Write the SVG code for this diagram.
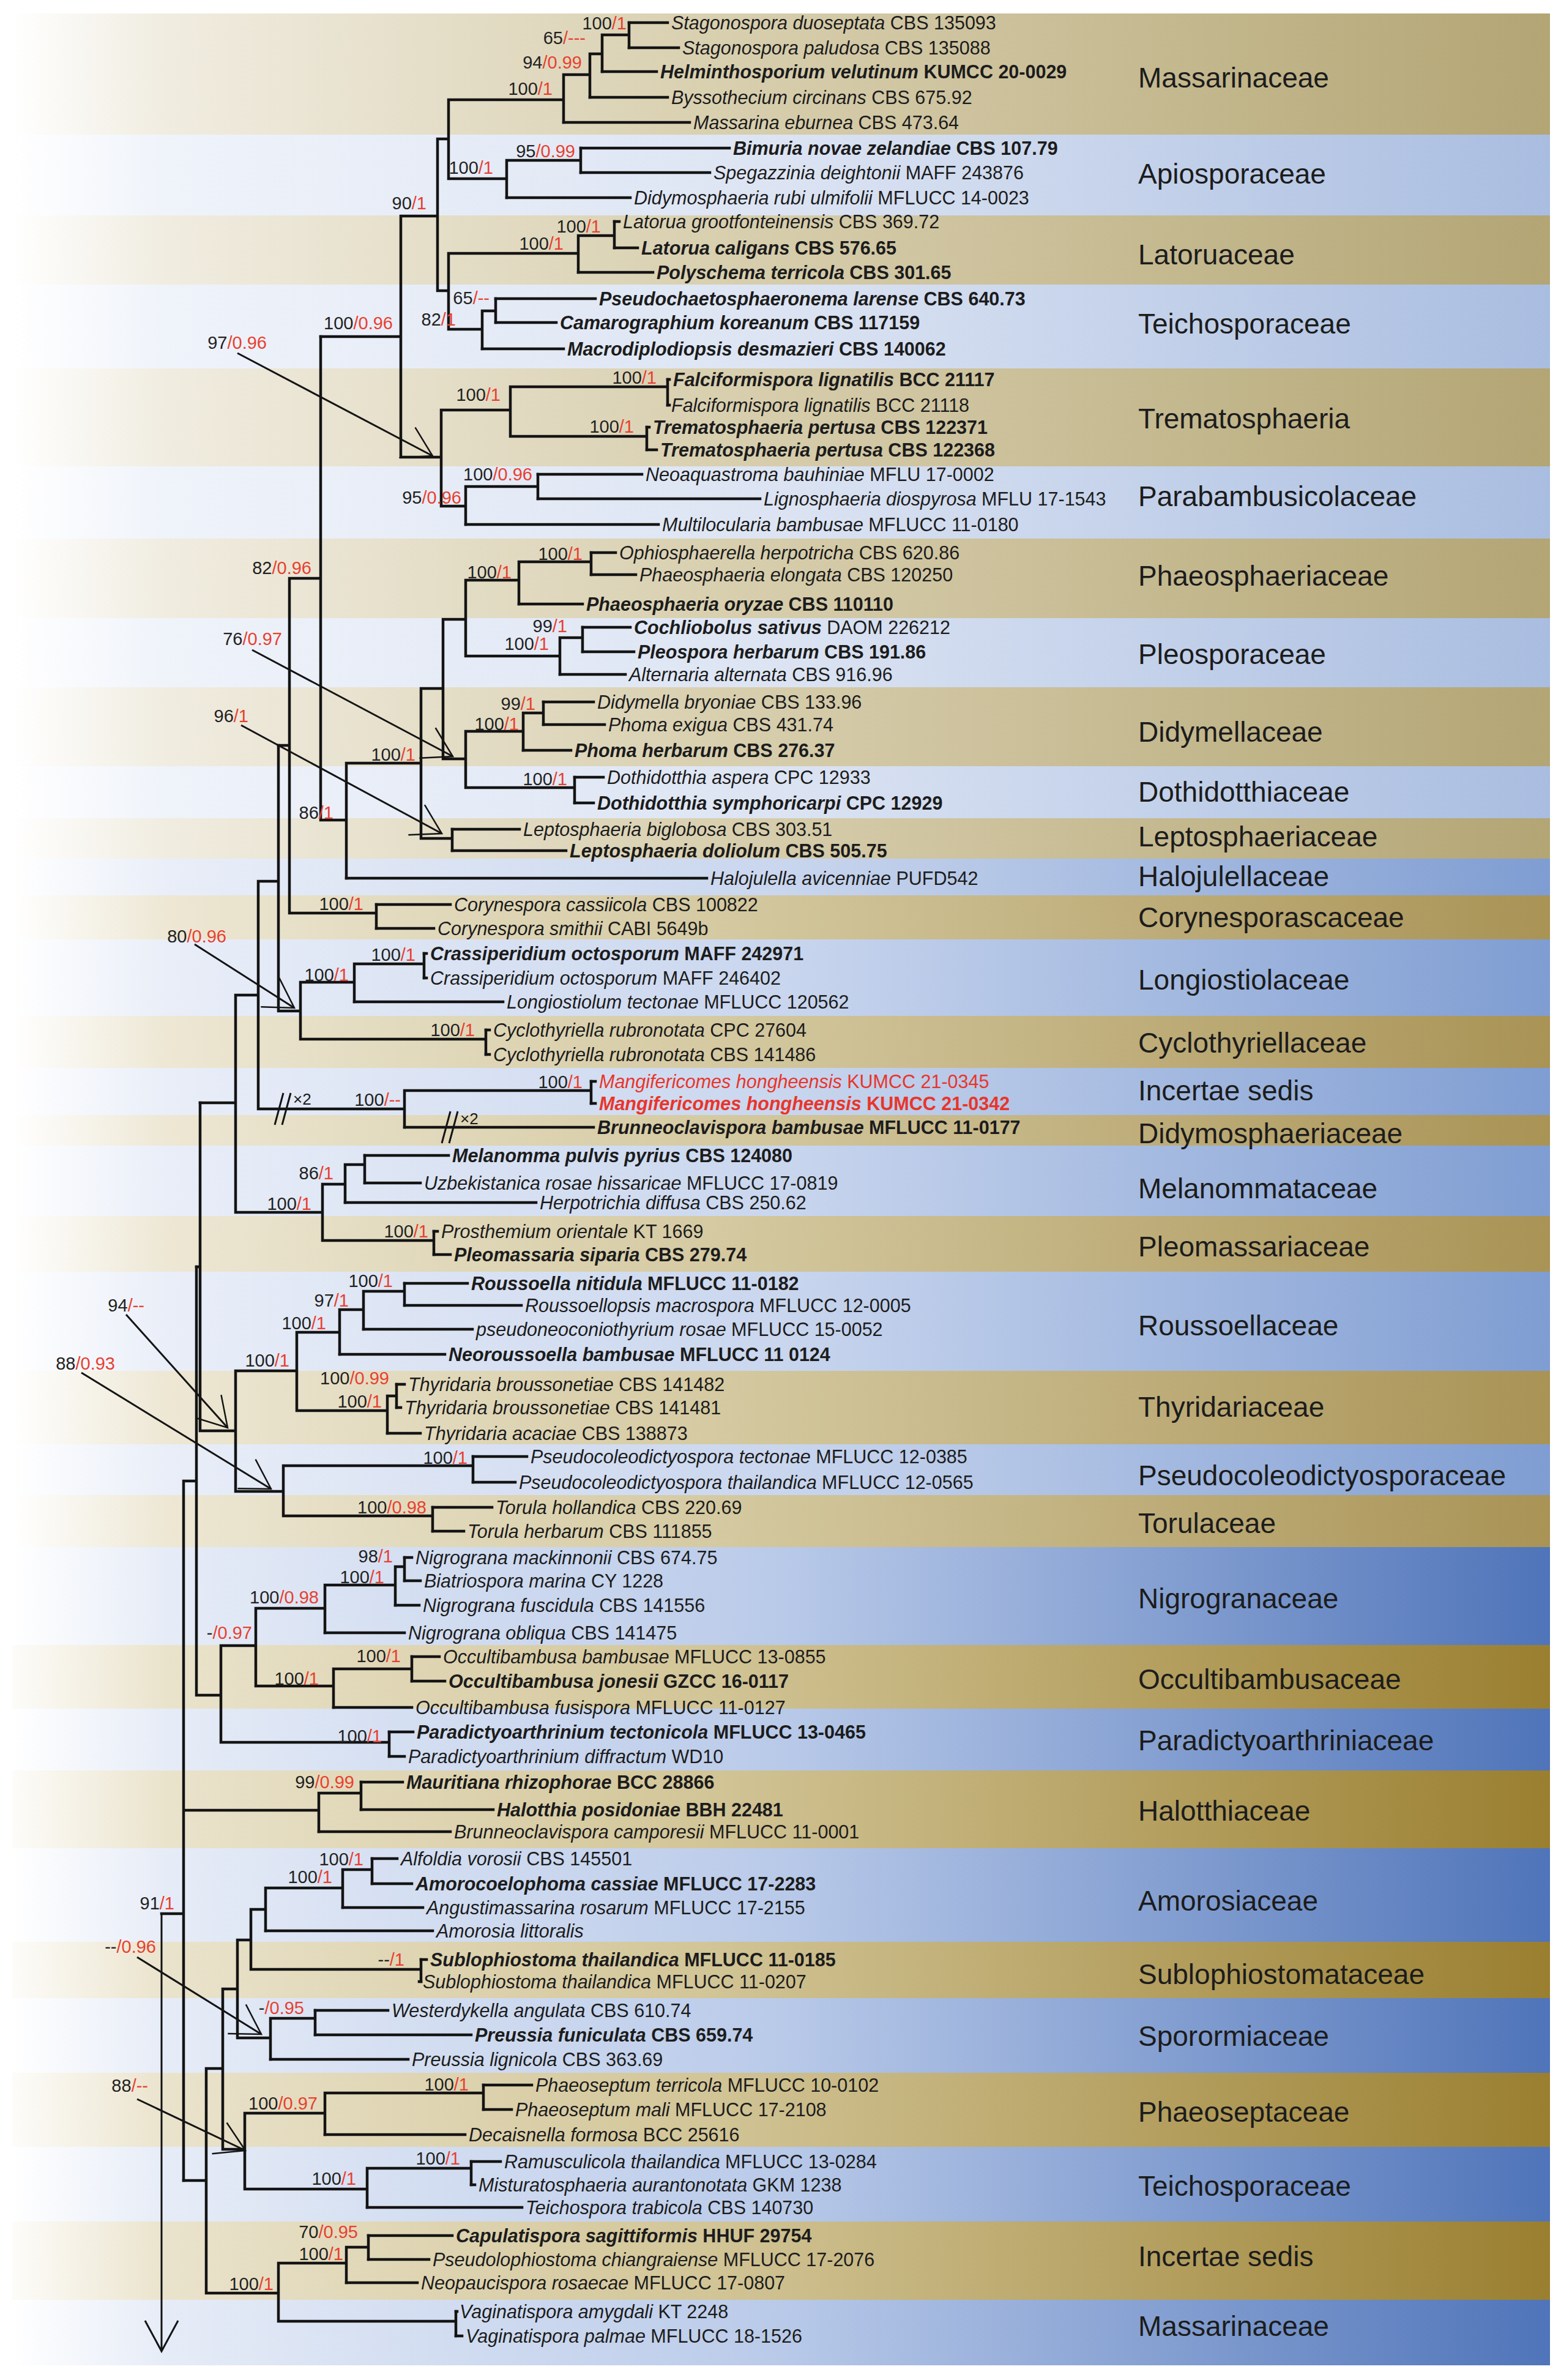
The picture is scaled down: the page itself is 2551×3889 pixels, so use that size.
<svg xmlns="http://www.w3.org/2000/svg" width="2551" height="3889" viewBox="0 0 2551 3889">
<defs>
<style>
.br{stroke:#141414;stroke-width:4.5;fill:none;stroke-linecap:square}
.ar{stroke:#141414;stroke-width:3;fill:none;marker-end:url(#ah)}
.t{font-family:"Liberation Sans",Arial,sans-serif;font-size:30.5px;fill:#1c1c1c}
.i{font-style:italic}
.b{font-weight:bold}
.s{font-family:"Liberation Sans",Arial,sans-serif;font-size:29px;fill:#222;text-anchor:end}
.r{fill:#e8402f}
.f{font-family:"Liberation Sans",Arial,sans-serif;font-size:46px;fill:#1c1c1c}
.red{fill:#e8352b}
</style>
<marker id="ah" markerUnits="userSpaceOnUse" orient="auto" markerWidth="80" markerHeight="80" refX="0" refY="0" viewBox="-60 -40 70 80" overflow="visible">
<path d="M-47,-28 L0,0 L-47,28" fill="none" stroke="#141414" stroke-width="2.5"/>
</marker>
<linearGradient id="tan1" x1="0" y1="0" x2="1" y2="0"><stop offset="0" stop-color="#ffffff"/><stop offset="0.1" stop-color="#f0ece0"/><stop offset="0.45" stop-color="#d9d0b0"/><stop offset="1" stop-color="#b3a574"/></linearGradient>
<linearGradient id="tan2" x1="0" y1="0" x2="1" y2="0"><stop offset="0" stop-color="#ffffff"/><stop offset="0.1" stop-color="#ede7d4"/><stop offset="0.45" stop-color="#d5caa2"/><stop offset="1" stop-color="#a99355"/></linearGradient>
<linearGradient id="tan3" x1="0" y1="0" x2="1" y2="0"><stop offset="0" stop-color="#fdfcf9"/><stop offset="0.1" stop-color="#eae3cc"/><stop offset="0.45" stop-color="#d2c597"/><stop offset="1" stop-color="#9a7f30"/></linearGradient>
<linearGradient id="blu1" x1="0" y1="0" x2="1" y2="0"><stop offset="0" stop-color="#ffffff"/><stop offset="0.1" stop-color="#eff3fa"/><stop offset="0.5" stop-color="#dce4f3"/><stop offset="1" stop-color="#a9bde0"/></linearGradient>
<linearGradient id="blu2" x1="0" y1="0" x2="1" y2="0"><stop offset="0" stop-color="#ffffff"/><stop offset="0.1" stop-color="#e9eef8"/><stop offset="0.5" stop-color="#c9d6ee"/><stop offset="1" stop-color="#7f9dd2"/></linearGradient>
<linearGradient id="blu3" x1="0" y1="0" x2="1" y2="0"><stop offset="0" stop-color="#ffffff"/><stop offset="0.1" stop-color="#e6ecf7"/><stop offset="0.5" stop-color="#b9cae9"/><stop offset="1" stop-color="#4f74b9"/></linearGradient>
</defs>
<rect width="2551" height="3889" fill="#ffffff"/>
<g id="bands">
<rect x="20" y="22" width="2513" height="198" fill="url(#tan1)"/>
<rect x="20" y="220" width="2513" height="132" fill="url(#blu1)"/>
<rect x="20" y="352" width="2513" height="113" fill="url(#tan1)"/>
<rect x="20" y="465" width="2513" height="137" fill="url(#blu1)"/>
<rect x="20" y="602" width="2513" height="160" fill="url(#tan1)"/>
<rect x="20" y="762" width="2513" height="118" fill="url(#blu1)"/>
<rect x="20" y="880" width="2513" height="130" fill="url(#tan1)"/>
<rect x="20" y="1010" width="2513" height="113" fill="url(#blu1)"/>
<rect x="20" y="1123" width="2513" height="129" fill="url(#tan1)"/>
<rect x="20" y="1252" width="2513" height="85" fill="url(#blu1)"/>
<rect x="20" y="1337" width="2513" height="66" fill="url(#tan1)"/>
<rect x="20" y="1403" width="2513" height="60" fill="url(#blu2)"/>
<rect x="20" y="1463" width="2513" height="72" fill="url(#tan2)"/>
<rect x="20" y="1535" width="2513" height="125" fill="url(#blu2)"/>
<rect x="20" y="1660" width="2513" height="85" fill="url(#tan2)"/>
<rect x="20" y="1745" width="2513" height="77" fill="url(#blu2)"/>
<rect x="20" y="1822" width="2513" height="50" fill="url(#tan2)"/>
<rect x="20" y="1872" width="2513" height="115" fill="url(#blu2)"/>
<rect x="20" y="1987" width="2513" height="91" fill="url(#tan2)"/>
<rect x="20" y="2078" width="2513" height="162" fill="url(#blu2)"/>
<rect x="20" y="2240" width="2513" height="120" fill="url(#tan2)"/>
<rect x="20" y="2360" width="2513" height="83" fill="url(#blu2)"/>
<rect x="20" y="2443" width="2513" height="85" fill="url(#tan2)"/>
<rect x="20" y="2528" width="2513" height="160" fill="url(#blu3)"/>
<rect x="20" y="2688" width="2513" height="104" fill="url(#tan3)"/>
<rect x="20" y="2792" width="2513" height="101" fill="url(#blu3)"/>
<rect x="20" y="2893" width="2513" height="127" fill="url(#tan3)"/>
<rect x="20" y="3020" width="2513" height="153" fill="url(#blu3)"/>
<rect x="20" y="3173" width="2513" height="92" fill="url(#tan3)"/>
<rect x="20" y="3265" width="2513" height="122" fill="url(#blu3)"/>
<rect x="20" y="3387" width="2513" height="121" fill="url(#tan3)"/>
<rect x="20" y="3508" width="2513" height="122" fill="url(#blu3)"/>
<rect x="20" y="3630" width="2513" height="128" fill="url(#tan3)"/>
<rect x="20" y="3758" width="2513" height="107" fill="url(#blu3)"/>
</g>
<g id="families">
<text class="f" x="1860" y="143">Massarinaceae</text>
<text class="f" x="1860" y="300">Apiosporaceae</text>
<text class="f" x="1860" y="432">Latoruaceae</text>
<text class="f" x="1860" y="545">Teichosporaceae</text>
<text class="f" x="1860" y="700">Trematosphaeria</text>
<text class="f" x="1860" y="827">Parabambusicolaceae</text>
<text class="f" x="1860" y="957">Phaeosphaeriaceae</text>
<text class="f" x="1860" y="1085">Pleosporaceae</text>
<text class="f" x="1860" y="1212">Didymellaceae</text>
<text class="f" x="1860" y="1310">Dothidotthiaceae</text>
<text class="f" x="1860" y="1383">Leptosphaeriaceae</text>
<text class="f" x="1860" y="1448">Halojulellaceae</text>
<text class="f" x="1860" y="1515">Corynesporascaceae</text>
<text class="f" x="1860" y="1617">Longiostiolaceae</text>
<text class="f" x="1860" y="1720">Cyclothyriellaceae</text>
<text class="f" x="1860" y="1798">Incertae sedis</text>
<text class="f" x="1860" y="1868">Didymosphaeriaceae</text>
<text class="f" x="1860" y="1958">Melanommataceae</text>
<text class="f" x="1860" y="2053">Pleomassariaceae</text>
<text class="f" x="1860" y="2182">Roussoellaceae</text>
<text class="f" x="1860" y="2315">Thyridariaceae</text>
<text class="f" x="1860" y="2427">Pseudocoleodictyosporaceae</text>
<text class="f" x="1860" y="2505">Torulaceae</text>
<text class="f" x="1860" y="2628">Nigrogranaceae</text>
<text class="f" x="1860" y="2760">Occultibambusaceae</text>
<text class="f" x="1860" y="2860">Paradictyoarthriniaceae</text>
<text class="f" x="1860" y="2975">Halotthiaceae</text>
<text class="f" x="1860" y="3122">Amorosiaceae</text>
<text class="f" x="1860" y="3242">Sublophiostomataceae</text>
<text class="f" x="1860" y="3343">Sporormiaceae</text>
<text class="f" x="1860" y="3467">Phaeoseptaceae</text>
<text class="f" x="1860" y="3588">Teichosporaceae</text>
<text class="f" x="1860" y="3703">Incertae sedis</text>
<text class="f" x="1860" y="3817">Massarinaceae</text>
</g>
<g id="connectors">
<path class="br" d="M1028,37H1091M1028,78H1109M984,117H1073M964,159H1091M921,200H1127M949,242H1192M949,282H1160M828,323H1030M1004,362H1012M1004,405H1042M945,445H1067M810,488H973M810,527H909M788,570H921M1091,620H1094M1091,662H1094M1057,698H1061M1057,735H1073M879,775H1049M879,815H1242M761,857H1076M966,903H1006M966,939H1039M848,987H952M952,1025H1030M952,1065H1036M915,1102H1022M888,1147H970M888,1184H988M855,1226H933M939,1270H986M939,1312H970M739,1355H849M739,1390H925M566,1435H1155M615,1478H736M615,1517H709M693,1558H697M693,1598H697M579,1637H822M794,1683H800M794,1723H800M966,1767H973M966,1803H973M661,1842H970M596,1888H733M596,1933H687M564,1965H876M709,2012H715M709,2050H736M661,2097H764M661,2133H852M594,2172H772M555,2213H727M648,2262H661M648,2300H655M633,2342H687M773,2380H861M773,2422H842M707,2463H804M707,2502H758M661,2545H673M661,2583H687M646,2623H685M531,2668H661M673,2707H718M673,2747H727M545,2790H673M636,2830H675M636,2870H661M590,2912H658M590,2957H806M521,2993H736M608,3037H649M608,3078H673M560,3117H691M434,3155H707M688,3202H697M688,3238H685M515,3285H634M515,3325H770M442,3365H667M790,3407H869M790,3447H836M531,3488H760M770,3532H818M770,3570H776M600,3607H853M602,3653H739M602,3692H701M566,3730H682M745,3777H747M745,3817H755"/>
<path class="br" d="M984,57H1028M1028,37V78M964,88H984M984,57V117M921,122H964M964,88V159M733,163H921M921,122V200M828,262H949M949,242V282M733,292H828M828,262V323M715,227H733M733,163V292M945,385H1004M1004,362V405M733,414H945M945,385V445M788,508H810M810,488V527M733,538H788M788,508V570M715,475H733M733,414V538M655,353H715M715,227V475M834,632H1091M1091,620V662M834,713H1057M1057,698V735M721,670H834M834,632V713M761,795H879M879,775V815M721,827H761M761,795V857M655,747H721M721,670V827M524,550H655M655,353V747"/>
<path class="br" d="M848,918H966M966,903V939M761,948H848M848,918V987M915,1042H952M952,1025V1065M761,1072H915M915,1042V1102M724,1012H761M761,948V1072M855,1165H888M888,1147V1184M761,1195H855M855,1165V1226M761,1287H939M939,1270V1312M724,1240H761M761,1195V1287M688,1125H724M724,1012V1240M688,1370H739M739,1355V1390M566,1247H688M688,1125V1370M524,1340H566M566,1247V1435M473,945H524M524,550V1340M473,1492H615M615,1478V1517M455,1218H473M473,945V1492"/>
<path class="br" d="M579,1575H693M693,1558V1598M491,1605H579M579,1575V1637M491,1698H794M794,1683V1723M455,1652H491M491,1605V1698M424,1440H455M455,1218V1652M661,1782H966M966,1767V1803M422,1812H661M661,1782V1842M385,1626H422M422,1440V1812M564,1903H596M596,1888V1933M527,1935H564M564,1903V1965M527,2027H709M709,2012V2050M385,1981H527M527,1935V2027M327,1802H385M385,1626V1981"/>
<path class="br" d="M594,2110H661M661,2097V2133M555,2140H594M594,2110V2172M485,2177H555M555,2140V2213M633,2281H648M648,2262V2300M485,2305H633M633,2281V2342M385,2240H485M485,2177V2305M463,2395H773M773,2380V2422M463,2477H707M707,2463V2502M385,2437H463M463,2395V2477M327,2338H385M385,2240V2437M321,2070H327M327,1802V2338"/>
<path class="br" d="M646,2560H661M661,2545V2583M531,2590H646M646,2560V2623M418,2628H531M531,2590V2668M545,2727H673M673,2707V2747M418,2755H545M545,2727V2790M361,2689H418M418,2628V2755M361,2847H636M636,2830V2870M321,2770H361M361,2689V2847M300,2420H321M321,2070V2770M521,2930H590M590,2912V2957M300,2958H521M521,2930V2993M300,2420V3563M264,3127H300"/>
<path class="br" d="M560,3055H608M608,3037V3078M434,3085H560M560,3055V3117M410,3120H434M434,3085V3155M410,3218H688M688,3202V3238M388,3170H410M410,3120V3218M442,3298H515M515,3285V3325M388,3330H442M442,3298V3365M364,3250H388M388,3170V3330M531,3420H790M790,3407V3447M400,3453H531M531,3420V3488M600,3543H770M770,3532V3570M400,3577H600M600,3543V3607M364,3512H400M400,3453V3577M337,3380H364M364,3250V3512M566,3672H602M602,3653V3692M455,3698H566M566,3672V3730M455,3793H745M745,3777V3817M337,3747H455M455,3698V3793M300,3563H337M337,3380V3747"/>
<path d="M264,3127V3842M237,3792L264,3842L291,3792" fill="none" stroke="#141414" stroke-width="3"/>
<path d="M449,1838L463,1786M461,1838L475,1786M722,1868L736,1816M734,1868L748,1816" fill="none" stroke="#141414" stroke-width="3"/>
<line class="ar" x1="388" y1="577" x2="707" y2="745"/>
<line class="ar" x1="412" y1="1062" x2="740" y2="1236"/>
<line class="ar" x1="394" y1="1185" x2="722" y2="1362"/>
<line class="ar" x1="318" y1="1543" x2="481" y2="1647"/>
<line class="ar" x1="206" y1="2148" x2="372" y2="2333"/>
<line class="ar" x1="133" y1="2243" x2="443" y2="2433"/>
<line class="ar" x1="224" y1="3198" x2="427" y2="3324"/>
<line class="ar" x1="224" y1="3430" x2="401" y2="3514"/>
</g>
<g id="marks">
<text class="t" x="479" y="1805" style="font-size:26px">×2</text>
<text class="t" x="752" y="1837" style="font-size:26px">×2</text>
</g>
<g id="support">
<text class="s" x="1024" y="48">100<tspan class="r">/1</tspan></text>
<text class="s" x="957" y="72">65<tspan class="r">/---</tspan></text>
<text class="s" x="951" y="112">94<tspan class="r">/0.99</tspan></text>
<text class="s" x="903" y="155">100<tspan class="r">/1</tspan></text>
<text class="s" x="940" y="257">95<tspan class="r">/0.99</tspan></text>
<text class="s" x="806" y="284">100<tspan class="r">/1</tspan></text>
<text class="s" x="697" y="342">90<tspan class="r">/1</tspan></text>
<text class="s" x="982" y="380">100<tspan class="r">/1</tspan></text>
<text class="s" x="921" y="408">100<tspan class="r">/1</tspan></text>
<text class="s" x="800" y="497">65<tspan class="r">/--</tspan></text>
<text class="s" x="745" y="532">82<tspan class="r">/1</tspan></text>
<text class="s" x="642" y="538">100<tspan class="r">/0.96</tspan></text>
<text class="s" x="436" y="570">97<tspan class="r">/0.96</tspan></text>
<text class="s" x="1073" y="627">100<tspan class="r">/1</tspan></text>
<text class="s" x="818" y="655">100<tspan class="r">/1</tspan></text>
<text class="s" x="1036" y="707">100<tspan class="r">/1</tspan></text>
<text class="s" x="870" y="785">100<tspan class="r">/0.96</tspan></text>
<text class="s" x="754" y="823">95<tspan class="r">/0.96</tspan></text>
<text class="s" x="952" y="915">100<tspan class="r">/1</tspan></text>
<text class="s" x="509" y="938">82<tspan class="r">/0.96</tspan></text>
<text class="s" x="836" y="945">100<tspan class="r">/1</tspan></text>
<text class="s" x="927" y="1033">99<tspan class="r">/1</tspan></text>
<text class="s" x="461" y="1054">76<tspan class="r">/0.97</tspan></text>
<text class="s" x="897" y="1062">100<tspan class="r">/1</tspan></text>
<text class="s" x="875" y="1160">99<tspan class="r">/1</tspan></text>
<text class="s" x="406" y="1180">96<tspan class="r">/1</tspan></text>
<text class="s" x="848" y="1193">100<tspan class="r">/1</tspan></text>
<text class="s" x="679" y="1243">100<tspan class="r">/1</tspan></text>
<text class="s" x="927" y="1283">100<tspan class="r">/1</tspan></text>
<text class="s" x="545" y="1338">86<tspan class="r">/1</tspan></text>
<text class="s" x="594" y="1487">100<tspan class="r">/1</tspan></text>
<text class="s" x="370" y="1540">80<tspan class="r">/0.96</tspan></text>
<text class="s" x="679" y="1570">100<tspan class="r">/1</tspan></text>
<text class="s" x="570" y="1603">100<tspan class="r">/1</tspan></text>
<text class="s" x="776" y="1693">100<tspan class="r">/1</tspan></text>
<text class="s" x="952" y="1778">100<tspan class="r">/1</tspan></text>
<text class="s" x="655" y="1807">100<tspan class="r">/--</tspan></text>
<text class="s" x="545" y="1927">86<tspan class="r">/1</tspan></text>
<text class="s" x="509" y="1977">100<tspan class="r">/1</tspan></text>
<text class="s" x="700" y="2022">100<tspan class="r">/1</tspan></text>
<text class="s" x="642" y="2103">100<tspan class="r">/1</tspan></text>
<text class="s" x="570" y="2135">97<tspan class="r">/1</tspan></text>
<text class="s" x="236" y="2143">94<tspan class="r">/--</tspan></text>
<text class="s" x="533" y="2172">100<tspan class="r">/1</tspan></text>
<text class="s" x="473" y="2233">100<tspan class="r">/1</tspan></text>
<text class="s" x="188" y="2238">88<tspan class="r">/0.93</tspan></text>
<text class="s" x="636" y="2262">100<tspan class="r">/0.99</tspan></text>
<text class="s" x="624" y="2300">100<tspan class="r">/1</tspan></text>
<text class="s" x="764" y="2392">100<tspan class="r">/1</tspan></text>
<text class="s" x="697" y="2473">100<tspan class="r">/0.98</tspan></text>
<text class="s" x="642" y="2553">98<tspan class="r">/1</tspan></text>
<text class="s" x="628" y="2587">100<tspan class="r">/1</tspan></text>
<text class="s" x="521" y="2620">100<tspan class="r">/0.98</tspan></text>
<text class="s" x="412" y="2678">-<tspan class="r">/0.97</tspan></text>
<text class="s" x="655" y="2716">100<tspan class="r">/1</tspan></text>
<text class="s" x="521" y="2753">100<tspan class="r">/1</tspan></text>
<text class="s" x="624" y="2847">100<tspan class="r">/1</tspan></text>
<text class="s" x="579" y="2922">99<tspan class="r">/0.99</tspan></text>
<text class="s" x="594" y="3048">100<tspan class="r">/1</tspan></text>
<text class="s" x="543" y="3077">100<tspan class="r">/1</tspan></text>
<text class="s" x="285" y="3120">91<tspan class="r">/1</tspan></text>
<text class="s" x="255" y="3191">--<tspan class="r">/0.96</tspan></text>
<text class="s" x="661" y="3212">--<tspan class="r">/1</tspan></text>
<text class="s" x="497" y="3291">-<tspan class="r">/0.95</tspan></text>
<text class="s" x="242" y="3418">88<tspan class="r">/--</tspan></text>
<text class="s" x="766" y="3416">100<tspan class="r">/1</tspan></text>
<text class="s" x="519" y="3447">100<tspan class="r">/0.97</tspan></text>
<text class="s" x="752" y="3537">100<tspan class="r">/1</tspan></text>
<text class="s" x="582" y="3570">100<tspan class="r">/1</tspan></text>
<text class="s" x="585" y="3657">70<tspan class="r">/0.95</tspan></text>
<text class="s" x="561" y="3693">100<tspan class="r">/1</tspan></text>
<text class="s" x="447" y="3742">100<tspan class="r">/1</tspan></text>
</g>
<g id="taxa">
<g id="n1"><text class="t" x="1097" y="48"><tspan class="i">Stagonospora duoseptata</tspan> CBS 135093</text></g>
<g id="n2"><text class="t" x="1115" y="89"><tspan class="i">Stagonospora paludosa</tspan> CBS 135088</text></g>
<g id="n3"><text class="t b" x="1079" y="128"><tspan class="i">Helminthosporium velutinum</tspan> KUMCC 20-0029</text></g>
<g id="n4"><text class="t" x="1097" y="170"><tspan class="i">Byssothecium circinans</tspan> CBS 675.92</text></g>
<g id="n5"><text class="t" x="1133" y="211"><tspan class="i">Massarina eburnea</tspan> CBS 473.64</text></g>
<g id="n6"><text class="t b" x="1198" y="253"><tspan class="i">Bimuria novae zelandiae</tspan> CBS 107.79</text></g>
<g id="n7"><text class="t" x="1166" y="293"><tspan class="i">Spegazzinia deightonii</tspan> MAFF 243876</text></g>
<g id="n8"><text class="t" x="1036" y="334"><tspan class="i">Didymosphaeria rubi ulmifolii</tspan> MFLUCC 14-0023</text></g>
<g id="n9"><text class="t" x="1018" y="373"><tspan class="i">Latorua grootfonteinensis</tspan> CBS 369.72</text></g>
<g id="n10"><text class="t b" x="1048" y="416"><tspan class="i">Latorua caligans</tspan> CBS 576.65</text></g>
<g id="n11"><text class="t b" x="1073" y="456"><tspan class="i">Polyschema terricola</tspan> CBS 301.65</text></g>
<g id="n12"><text class="t b" x="979" y="499"><tspan class="i">Pseudochaetosphaeronema larense</tspan> CBS 640.73</text></g>
<g id="n13"><text class="t b" x="915" y="538"><tspan class="i">Camarographium koreanum</tspan> CBS 117159</text></g>
<g id="n14"><text class="t b" x="927" y="581"><tspan class="i">Macrodiplodiopsis desmazieri</tspan> CBS 140062</text></g>
<g id="n15"><text class="t b" x="1100" y="631"><tspan class="i">Falciformispora lignatilis</tspan> BCC 21117</text></g>
<g id="n16"><text class="t" x="1097" y="673"><tspan class="i">Falciformispora lignatilis</tspan> BCC 21118</text></g>
<g id="n17"><text class="t b" x="1067" y="709"><tspan class="i">Trematosphaeria pertusa</tspan> CBS 122371</text></g>
<g id="n18"><text class="t b" x="1079" y="746"><tspan class="i">Trematosphaeria pertusa</tspan> CBS 122368</text></g>
<g id="n19"><text class="t" x="1055" y="786"><tspan class="i">Neoaquastroma bauhiniae</tspan> MFLU 17-0002</text></g>
<g id="n20"><text class="t" x="1248" y="826"><tspan class="i">Lignosphaeria diospyrosa</tspan> MFLU 17-1543</text></g>
<g id="n21"><text class="t" x="1082" y="868"><tspan class="i">Multilocularia bambusae</tspan> MFLUCC 11-0180</text></g>
<g id="n22"><text class="t" x="1012" y="914"><tspan class="i">Ophiosphaerella herpotricha</tspan> CBS 620.86</text></g>
<g id="n23"><text class="t" x="1045" y="950"><tspan class="i">Phaeosphaeria elongata</tspan> CBS 120250</text></g>
<g id="n24"><text class="t b" x="958" y="998"><tspan class="i">Phaeosphaeria oryzae</tspan> CBS 110110</text></g>
<g id="n25"><text class="t" x="1036" y="1036"><tspan class="i b">Cochliobolus sativus</tspan> DAOM 226212</text></g>
<g id="n26"><text class="t b" x="1042" y="1076"><tspan class="i">Pleospora herbarum</tspan> CBS 191.86</text></g>
<g id="n27"><text class="t" x="1028" y="1113"><tspan class="i">Alternaria alternata</tspan> CBS 916.96</text></g>
<g id="n28"><text class="t" x="976" y="1158"><tspan class="i">Didymella bryoniae</tspan> CBS 133.96</text></g>
<g id="n29"><text class="t" x="994" y="1195"><tspan class="i">Phoma exigua</tspan> CBS 431.74</text></g>
<g id="n30"><text class="t b" x="939" y="1237"><tspan class="i">Phoma herbarum</tspan> CBS 276.37</text></g>
<g id="n31"><text class="t" x="992" y="1281"><tspan class="i">Dothidotthia aspera</tspan> CPC 12933</text></g>
<g id="n32"><text class="t b" x="976" y="1323"><tspan class="i">Dothidotthia symphoricarpi</tspan> CPC 12929</text></g>
<g id="n33"><text class="t" x="855" y="1366"><tspan class="i">Leptosphaeria biglobosa</tspan> CBS 303.51</text></g>
<g id="n34"><text class="t b" x="931" y="1401"><tspan class="i">Leptosphaeria doliolum</tspan> CBS 505.75</text></g>
<g id="n35"><text class="t" x="1161" y="1446"><tspan class="i">Halojulella avicenniae</tspan> PUFD542</text></g>
<g id="n36"><text class="t" x="742" y="1489"><tspan class="i">Corynespora cassiicola</tspan> CBS 100822</text></g>
<g id="n37"><text class="t" x="715" y="1528"><tspan class="i">Corynespora smithii</tspan> CABI 5649b</text></g>
<g id="n38"><text class="t b" x="703" y="1569"><tspan class="i">Crassiperidium octosporum</tspan> MAFF 242971</text></g>
<g id="n39"><text class="t" x="703" y="1609"><tspan class="i">Crassiperidium octosporum</tspan> MAFF 246402</text></g>
<g id="n40"><text class="t" x="828" y="1648"><tspan class="i">Longiostiolum tectonae</tspan> MFLUCC 120562</text></g>
<g id="n41"><text class="t" x="806" y="1694"><tspan class="i">Cyclothyriella rubronotata</tspan> CPC 27604</text></g>
<g id="n42"><text class="t" x="806" y="1734"><tspan class="i">Cyclothyriella rubronotata</tspan> CBS 141486</text></g>
<g id="n43"><text class="t red" x="979" y="1778"><tspan class="i">Mangifericomes hongheensis</tspan> KUMCC 21-0345</text></g>
<g id="n44"><text class="t b red" x="979" y="1814"><tspan class="i">Mangifericomes hongheensis</tspan> KUMCC 21-0342</text></g>
<g id="n45"><text class="t b" x="976" y="1853"><tspan class="i">Brunneoclavispora bambusae</tspan> MFLUCC 11-0177</text></g>
<g id="n46"><text class="t b" x="739" y="1899"><tspan class="i">Melanomma pulvis pyrius</tspan> CBS 124080</text></g>
<g id="n47"><text class="t" x="693" y="1944"><tspan class="i">Uzbekistanica rosae hissaricae</tspan> MFLUCC 17-0819</text></g>
<g id="n48"><text class="t" x="882" y="1976"><tspan class="i">Herpotrichia diffusa</tspan> CBS 250.62</text></g>
<g id="n49"><text class="t" x="721" y="2023"><tspan class="i">Prosthemium orientale</tspan> KT 1669</text></g>
<g id="n50"><text class="t b" x="742" y="2061"><tspan class="i">Pleomassaria siparia</tspan> CBS 279.74</text></g>
<g id="n51"><text class="t b" x="770" y="2108"><tspan class="i">Roussoella nitidula</tspan> MFLUCC 11-0182</text></g>
<g id="n52"><text class="t" x="858" y="2144"><tspan class="i">Roussoellopsis macrospora</tspan> MFLUCC 12-0005</text></g>
<g id="n53"><text class="t" x="778" y="2183"><tspan class="i">pseudoneoconiothyrium rosae</tspan> MFLUCC 15-0052</text></g>
<g id="n54"><text class="t b" x="733" y="2224"><tspan class="i">Neoroussoella bambusae</tspan> MFLUCC 11 0124</text></g>
<g id="n55"><text class="t" x="667" y="2273"><tspan class="i">Thyridaria broussonetiae</tspan> CBS 141482</text></g>
<g id="n56"><text class="t" x="661" y="2311"><tspan class="i">Thyridaria broussonetiae</tspan> CBS 141481</text></g>
<g id="n57"><text class="t" x="693" y="2353"><tspan class="i">Thyridaria acaciae</tspan> CBS 138873</text></g>
<g id="n58"><text class="t" x="867" y="2391"><tspan class="i">Pseudocoleodictyospora tectonae</tspan> MFLUCC 12-0385</text></g>
<g id="n59"><text class="t" x="848" y="2433"><tspan class="i">Pseudocoleodictyospora thailandica</tspan> MFLUCC 12-0565</text></g>
<g id="n60"><text class="t" x="810" y="2474"><tspan class="i">Torula hollandica</tspan> CBS 220.69</text></g>
<g id="n61"><text class="t" x="764" y="2513"><tspan class="i">Torula herbarum</tspan> CBS 111855</text></g>
<g id="n62"><text class="t" x="679" y="2556"><tspan class="i">Nigrograna mackinnonii</tspan> CBS 674.75</text></g>
<g id="n63"><text class="t" x="693" y="2594"><tspan class="i">Biatriospora marina</tspan> CY 1228</text></g>
<g id="n64"><text class="t" x="691" y="2634"><tspan class="i">Nigrograna fuscidula</tspan> CBS 141556</text></g>
<g id="n65"><text class="t" x="667" y="2679"><tspan class="i">Nigrograna obliqua</tspan> CBS 141475</text></g>
<g id="n66"><text class="t" x="724" y="2718"><tspan class="i">Occultibambusa bambusae</tspan> MFLUCC 13-0855</text></g>
<g id="n67"><text class="t b" x="733" y="2758"><tspan class="i">Occultibambusa jonesii</tspan> GZCC 16-0117</text></g>
<g id="n68"><text class="t" x="679" y="2801"><tspan class="i">Occultibambusa fusispora</tspan> MFLUCC 11-0127</text></g>
<g id="n69"><text class="t b" x="681" y="2841"><tspan class="i">Paradictyoarthrinium tectonicola</tspan> MFLUCC 13-0465</text></g>
<g id="n70"><text class="t" x="667" y="2881"><tspan class="i">Paradictyoarthrinium diffractum</tspan> WD10</text></g>
<g id="n71"><text class="t b" x="664" y="2923"><tspan class="i">Mauritiana rhizophorae</tspan> BCC 28866</text></g>
<g id="n72"><text class="t b" x="812" y="2968"><tspan class="i">Halotthia posidoniae</tspan> BBH 22481</text></g>
<g id="n73"><text class="t" x="742" y="3004"><tspan class="i">Brunneoclavispora camporesii</tspan> MFLUCC 11-0001</text></g>
<g id="n74"><text class="t" x="655" y="3048"><tspan class="i">Alfoldia vorosii</tspan> CBS 145501</text></g>
<g id="n75"><text class="t b" x="679" y="3089"><tspan class="i">Amorocoelophoma cassiae</tspan> MFLUCC 17-2283</text></g>
<g id="n76"><text class="t" x="697" y="3128"><tspan class="i">Angustimassarina rosarum</tspan> MFLUCC 17-2155</text></g>
<g id="n77"><text class="t" x="713" y="3166"><tspan class="i">Amorosia littoralis</tspan></text></g>
<g id="n78"><text class="t b" x="703" y="3213"><tspan class="i">Sublophiostoma thailandica</tspan> MFLUCC 11-0185</text></g>
<g id="n79"><text class="t" x="691" y="3249"><tspan class="i">Sublophiostoma thailandica</tspan> MFLUCC 11-0207</text></g>
<g id="n80"><text class="t" x="640" y="3296"><tspan class="i">Westerdykella angulata</tspan> CBS 610.74</text></g>
<g id="n81"><text class="t b" x="776" y="3336"><tspan class="i">Preussia funiculata</tspan> CBS 659.74</text></g>
<g id="n82"><text class="t" x="673" y="3376"><tspan class="i">Preussia lignicola</tspan> CBS 363.69</text></g>
<g id="n83"><text class="t" x="875" y="3418"><tspan class="i">Phaeoseptum terricola</tspan> MFLUCC 10-0102</text></g>
<g id="n84"><text class="t" x="842" y="3458"><tspan class="i">Phaeoseptum mali</tspan> MFLUCC 17-2108</text></g>
<g id="n85"><text class="t" x="766" y="3499"><tspan class="i">Decaisnella formosa</tspan> BCC 25616</text></g>
<g id="n86"><text class="t" x="824" y="3543"><tspan class="i">Ramusculicola thailandica</tspan> MFLUCC 13-0284</text></g>
<g id="n87"><text class="t" x="782" y="3581"><tspan class="i">Misturatosphaeria aurantonotata</tspan> GKM 1238</text></g>
<g id="n88"><text class="t" x="859" y="3618"><tspan class="i">Teichospora trabicola</tspan> CBS 140730</text></g>
<g id="n89"><text class="t b" x="745" y="3664"><tspan class="i">Capulatispora sagittiformis</tspan> HHUF 29754</text></g>
<g id="n90"><text class="t" x="707" y="3703"><tspan class="i">Pseudolophiostoma chiangraiense</tspan> MFLUCC 17-2076</text></g>
<g id="n91"><text class="t" x="688" y="3741"><tspan class="i">Neopaucispora rosaecae</tspan> MFLUCC 17-0807</text></g>
<g id="n92"><text class="t" x="751" y="3788"><tspan class="i">Vaginatispora amygdali</tspan> KT 2248</text></g>
<g id="n93"><text class="t" x="761" y="3828"><tspan class="i">Vaginatispora palmae</tspan> MFLUCC 18-1526</text></g>
</g>
</svg>
